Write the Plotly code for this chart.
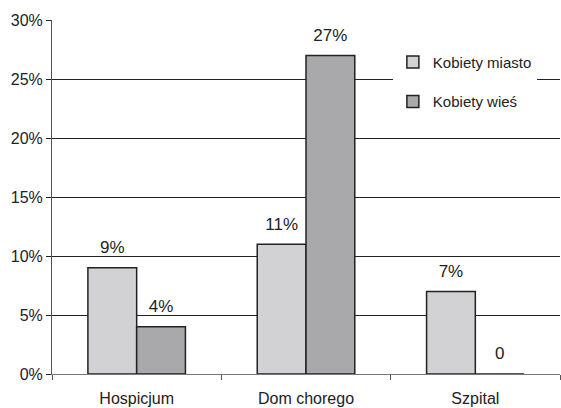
import plotly.graph_objects as go

categories = ["Hospicjum", "Dom chorego", "Szpital"]
miasto = [9, 11, 7]
wies = [4, 27, 0]
miasto_labels = ["9%", "11%", "7%"]
wies_labels = ["4%", "27%", "0"]
y_ticks = [0, 5, 10, 15, 20, 25, 30]
y_tick_labels = ["0%", "5%", "10%", "15%", "20%", "25%", "30%"]

FONT = "Liberation Sans, Arial, sans-serif"
INK = "#222222"
GAP = 0.424

fig = go.Figure()
series = [
    ("Kobiety miasto", miasto, miasto_labels, "#d2d2d4", "a"),
    ("Kobiety wieś", wies, wies_labels, "#a9a9ab", "b"),
]
for name, vals, labels, color, grp in series:
    fig.add_trace(go.Bar(
        name=name, x=categories, y=vals,
        marker=dict(color=color, line=dict(color=INK, width=1.5)),
        legendgroup=grp, offsetgroup=grp,
    ))
# value labels, grouped the same way as the bars, lifted above each bar top
for name, vals, labels, color, grp in series:
    fig.add_trace(go.Scatter(
        x=categories, y=vals, text=labels, mode="markers+text",
        textposition="top center", cliponaxis=False,
        marker=dict(size=15, opacity=0),
        textfont=dict(family=FONT, size=17, color=INK),
        offsetgroup=grp, showlegend=False, hoverinfo="skip",
    ))

fig.update_layout(
    width=561, height=408,
    margin=dict(l=52, r=1, t=20, b=34),
    paper_bgcolor="white", plot_bgcolor="white",
    font=dict(family=FONT, size=16, color=INK),
    barmode="group", bargap=GAP, bargroupgap=0,
    scattermode="group", scattergap=GAP,
    showlegend=True,
    legend=dict(
        x=0.671, y=0.927, xanchor="left", yanchor="top",
        bgcolor="white", borderwidth=0,
        traceorder="grouped", tracegroupgap=17,
        font=dict(family=FONT, size=15, color=INK),
    ),
    xaxis=dict(
        tickson="boundaries", ticks="outside", ticklen=5, tickcolor="#555",
        showline=True, linecolor="#777", linewidth=1,
        showgrid=False, tickfont=dict(size=16), ticklabelstandoff=10,
    ),
    yaxis=dict(
        range=[0, 30], tickvals=y_ticks, ticktext=y_tick_labels,
        ticks="outside", ticklen=5, tickcolor=INK,
        showline=True, linecolor="#555", linewidth=1,
        showgrid=True, gridcolor=INK, gridwidth=1,
        zeroline=False, tickfont=dict(size=16),
    ),
)

fig.write_html("out.html")
